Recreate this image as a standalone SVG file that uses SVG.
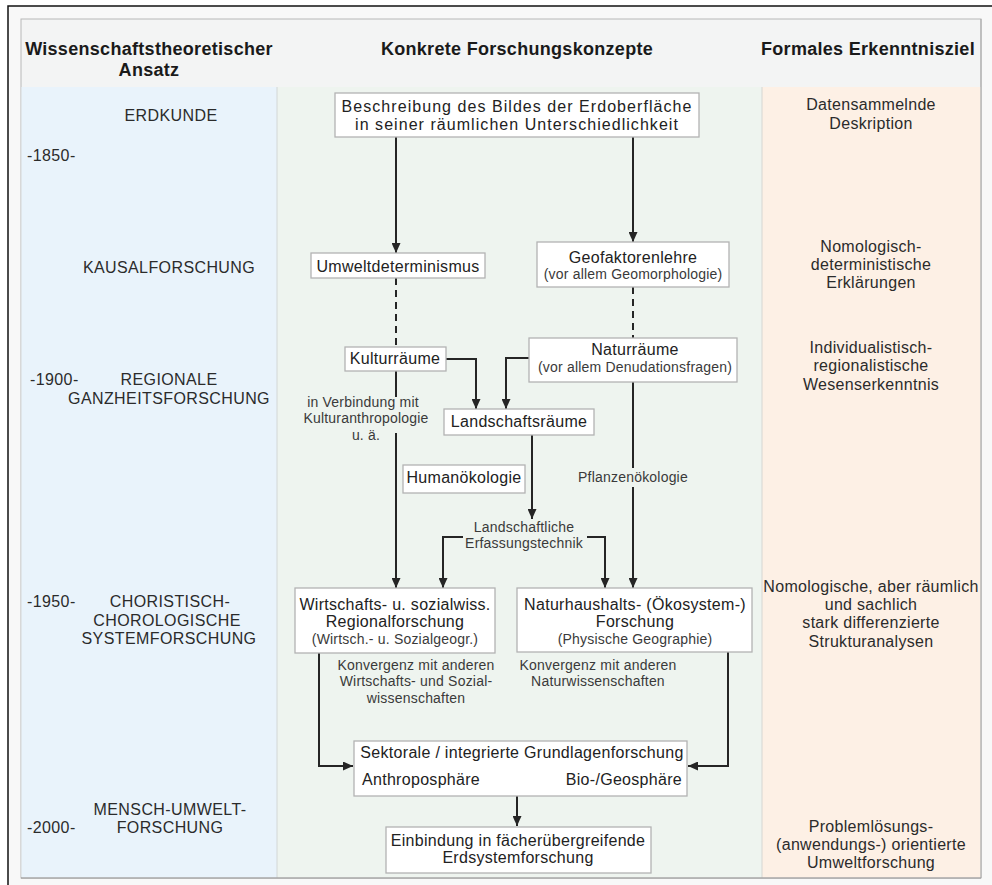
<svg xmlns="http://www.w3.org/2000/svg" width="992" height="885" viewBox="0 0 992 885">
<defs>
<style>
text{font-family:"Liberation Sans",Arial,sans-serif;}
.h{font-size:18px;font-weight:bold;fill:#1a1a1a;letter-spacing:0.3px;text-anchor:middle}
.era{font-size:16px;fill:#2b2b2b;letter-spacing:0.4px}
.mid{text-anchor:middle}
.t{font-size:16px;fill:#222;letter-spacing:0.3px;text-anchor:middle}
.s{font-size:14px;fill:#3a3a3a;letter-spacing:0.2px;text-anchor:middle}
.r{font-size:16px;fill:#2b2b2b;letter-spacing:0.3px;text-anchor:middle}
.box{fill:#ffffff;stroke:#b3b3b3;stroke-width:1.3}
.c{stroke:#252525;stroke-width:2;fill:none}
.d{stroke:#252525;stroke-width:2;fill:none;stroke-dasharray:7 5}
</style>
<marker id="ah" markerUnits="userSpaceOnUse" markerWidth="10" markerHeight="9" refX="10" refY="4.5" orient="auto">
<path d="M0,0 L10,4.5 L0,9 z" fill="#252525"/>
</marker>
</defs>

<rect x="0" y="0" width="992" height="885" fill="#ffffff"/>
<rect x="8" y="6" width="990" height="890" fill="#f8f8f8" stroke="#111" stroke-width="1.5"/>

<g id="panel">
<rect x="21" y="19" width="960" height="859" fill="#f3f4f4" stroke="#b8b8b8" stroke-width="1"/>
<rect x="21.5" y="87" width="255.5" height="790.5" fill="#e9f3fb"/>
<rect x="277" y="87" width="485" height="790.5" fill="#eef4ef"/>
<rect x="762" y="87" width="218.5" height="790.5" fill="#fdf0e5"/>
<line x1="277" y1="87" x2="277" y2="878" stroke="#d2d6d6" stroke-width="1"/>
<line x1="762" y1="87" x2="762" y2="878" stroke="#d6d6d2" stroke-width="1"/>
<line x1="21" y1="878" x2="981" y2="878" stroke="#909090" stroke-width="1.2"/>
<line x1="981" y1="19" x2="981" y2="878" stroke="#a8a8a8" stroke-width="1"/>
</g>

<g id="headers">
<text class="h" x="149" y="55">Wissenschaftstheoretischer</text>
<text class="h" x="149" y="76">Ansatz</text>
<text class="h" x="517" y="55">Konkrete Forschungskonzepte</text>
<text class="h" x="868" y="55">Formales Erkenntnisziel</text>
</g>

<g id="era-erdkunde"><text class="era mid" x="171" y="121">ERDKUNDE</text></g>
<g id="year-1850"><text class="era" x="27" y="161">-1850-</text></g>
<g id="era-kausal"><text class="era mid" x="169" y="273">KAUSALFORSCHUNG</text></g>
<g id="year-1900"><text class="era" x="30" y="385">-1900-</text></g>
<g id="era-regional"><text class="era mid" x="169" y="385">REGIONALE</text><text class="era mid" x="169" y="404">GANZHEITSFORSCHUNG</text></g>
<g id="year-1950"><text class="era" x="27" y="607">-1950-</text></g>
<g id="era-chorist"><text class="era mid" x="170" y="607">CHORISTISCH-</text><text class="era mid" x="167" y="626">CHOROLOGISCHE</text><text class="era mid" x="169" y="644">SYSTEMFORSCHUNG</text></g>
<g id="era-mensch"><text class="era mid" x="170" y="815">MENSCH-UMWELT-</text><text class="era mid" x="170" y="833">FORSCHUNG</text></g>
<g id="year-2000"><text class="era" x="27" y="833">-2000-</text></g>

<g id="goal-1"><text class="r" x="871" y="110">Datensammelnde</text><text class="r" x="871" y="129">Deskription</text></g>
<g id="goal-2"><text class="r" x="871" y="252">Nomologisch-</text><text class="r" x="871" y="270">deterministische</text><text class="r" x="871" y="288">Erklärungen</text></g>
<g id="goal-3"><text class="r" x="871" y="353">Individualistisch-</text><text class="r" x="871" y="371">regionalistische</text><text class="r" x="871" y="390">Wesenserkenntnis</text></g>
<g id="goal-4"><text class="r" x="871" y="592">Nomologische, aber räumlich</text><text class="r" x="871" y="610">und sachlich</text><text class="r" x="871" y="628">stark differenzierte</text><text class="r" x="871" y="647">Strukturanalysen</text></g>
<g id="goal-5"><text class="r" x="871" y="832">Problemlösungs-</text><text class="r" x="871" y="850">(anwendungs-) orientierte</text><text class="r" x="871" y="868">Umweltforschung</text></g>

<g id="connectors">
<path class="c" d="M396,137 V253" marker-end="url(#ah)"/>
<path class="c" d="M633,137 V242" marker-end="url(#ah)"/>
<path class="d" d="M396,278 V347"/>
<path class="d" d="M633,287 V338"/>
<path class="c" d="M446,359 H476 V409" marker-end="url(#ah)"/>
<path class="c" d="M529,358 H506 V409" marker-end="url(#ah)"/>
<path class="c" d="M396,371 V397"/>
<path class="c" d="M396,433 V588" marker-end="url(#ah)"/>
<path class="c" d="M532,435 V519" marker-end="url(#ah)"/>
<path class="c" d="M463,537 H443 V588" marker-end="url(#ah)"/>
<path class="c" d="M587,537 H605 V588" marker-end="url(#ah)"/>
<path class="c" d="M633,382 V468"/>
<path class="c" d="M633,487 V588" marker-end="url(#ah)"/>
<path class="c" d="M319,653 V766 H353" marker-end="url(#ah)"/>
<path class="c" d="M728,652 V766 H688" marker-end="url(#ah)"/>
<path class="c" d="M517,796 V826" marker-end="url(#ah)"/>
<text class="s" x="363" y="407">in Verbindung mit</text>
<text class="s" x="366" y="423">Kulturanthropologie</text>
<text class="s" x="366" y="440">u. ä.</text>
<text class="s" x="524" y="532">Landschaftliche</text>
<text class="s" x="524" y="548">Erfassungstechnik</text>
<text class="s" x="633" y="482">Pflanzenökologie</text>
<text class="s" x="416" y="670">Konvergenz mit anderen</text>
<text class="s" x="416" y="686">Wirtschafts- und Sozial-</text>
<text class="s" x="416" y="703">wissenschaften</text>
<text class="s" x="598" y="670">Konvergenz mit anderen</text>
<text class="s" x="598" y="686">Naturwissenschaften</text>
</g>

<g id="node-beschreibung">
<rect class="box" x="335" y="93" width="364" height="44"/>
<text class="t" x="517" y="112" style="letter-spacing:1.05px">Beschreibung des Bildes der Erdoberfläche</text>
<text class="t" x="517" y="130" style="letter-spacing:1.05px">in seiner räumlichen Unterschiedlichkeit</text>
</g>
<g id="node-umwelt">
<rect class="box" x="311" y="253" width="174" height="25"/>
<text class="t" x="398" y="272">Umweltdeterminismus</text>
</g>
<g id="node-geofaktoren">
<rect class="box" x="537" y="242" width="192" height="45"/>
<text class="t" x="633" y="263">Geofaktorenlehre</text>
<text class="s" x="633" y="279">(vor allem Geomorphologie)</text>
</g>
<g id="node-kultur">
<rect class="box" x="345" y="347" width="101" height="24"/>
<text class="t" x="395" y="364">Kulturräume</text>
</g>
<g id="node-natur">
<rect class="box" x="529" y="338" width="208" height="44"/>
<text class="t" x="635" y="355">Naturräume</text>
<text class="s" x="635" y="372">(vor allem Denudationsfragen)</text>
</g>
<g id="node-landschaft">
<rect class="box" x="444" y="409" width="150" height="26"/>
<text class="t" x="519" y="427">Landschaftsräume</text>
</g>
<g id="node-human">
<rect class="box" x="403" y="465" width="122" height="28"/>
<text class="t" x="464" y="483">Humanökologie</text>
</g>
<g id="node-wirtschaft">
<rect class="box" x="295" y="588" width="200" height="65"/>
<text class="t" x="395" y="610">Wirtschafts- u. sozialwiss.</text>
<text class="t" x="395" y="627">Regionalforschung</text>
<text class="s" x="395" y="644">(Wirtsch.- u. Sozialgeogr.)</text>
</g>
<g id="node-naturhaushalt">
<rect class="box" x="517" y="588" width="235" height="64"/>
<text class="t" x="635" y="610">Naturhaushalts- (Ökosystem-)</text>
<text class="t" x="635" y="627">Forschung</text>
<text class="s" x="635" y="644">(Physische Geographie)</text>
</g>
<g id="node-sektorale">
<rect class="box" x="354" y="741" width="333" height="55"/>
<text class="t" x="522" y="758">Sektorale / integrierte Grundlagenforschung</text>
<text class="t" x="362" y="785" style="text-anchor:start">Anthroposphäre</text>
<text class="t" x="682" y="785" style="text-anchor:end">Bio-/Geosphäre</text>
</g>
<g id="node-einbindung">
<rect class="box" x="386" y="827" width="265" height="46"/>
<text class="t" x="518" y="846">Einbindung in fächerübergreifende</text>
<text class="t" x="518" y="863">Erdsystemforschung</text>
</g>
</svg>
